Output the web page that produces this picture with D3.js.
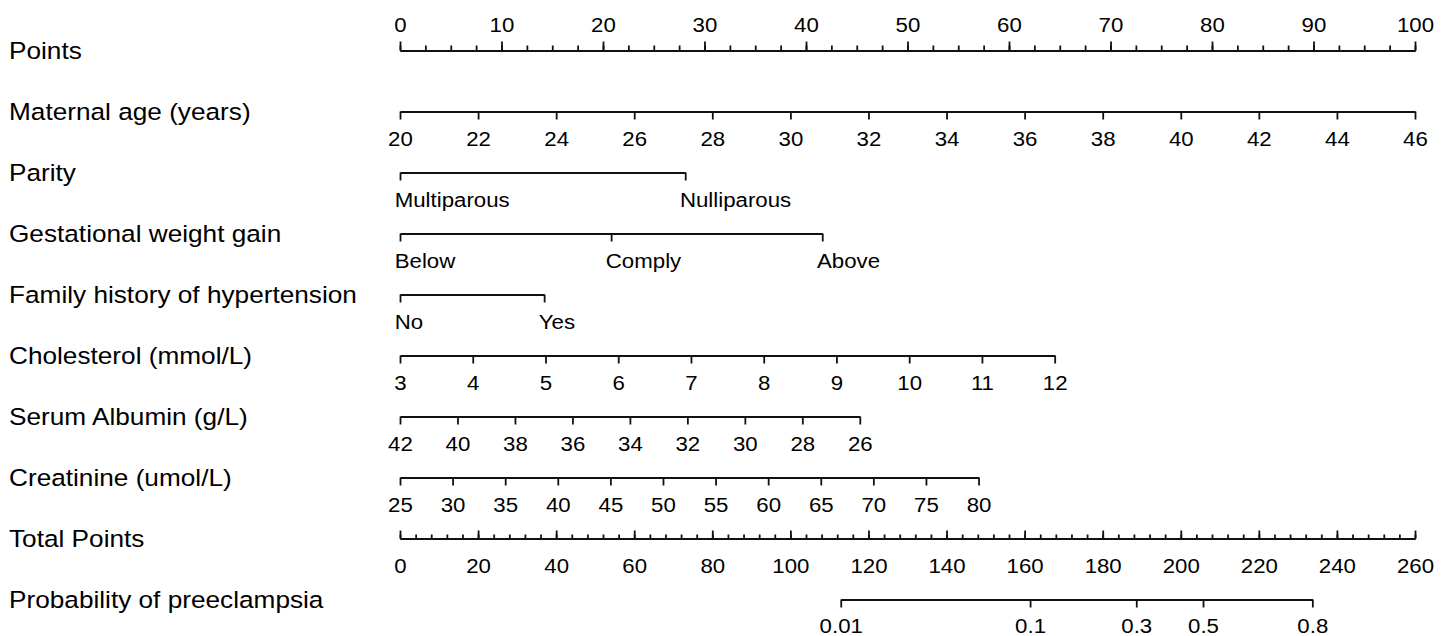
<!DOCTYPE html>
<html>
<head>
<meta charset="utf-8">
<script src="https://cdn.jsdelivr.net/npm/d3@7"></script>
<style>
  body { margin: 0; background: #fff; }
  svg { font-family: Arial, 'Liberation Sans', sans-serif; }
</style>
</head>
<body>
<div id="chart"></div>
<script>
var width = 1448
var height = 636

// rows of the nomogram, top to bottom
var rowLabels = [
  'Points',
  'Maternal age (years)',
  'Parity',
  'Gestational weight gain',
  'Family history of hypertension',
  'Cholesterol (mmol/L)',
  'Serum Albumin (g/L)',
  'Creatinine (umol/L)',
  'Total Points',
  'Probability of preeclampsia'
]

var pointsTicks = [0, 10, 20, 30, 40, 50, 60, 70, 80, 90, 100]
var pointsMinorStep = 2.5

var ageTicks = [20, 22, 24, 26, 28, 30, 32, 34, 36, 38, 40, 42, 44, 46]
var ageRange = [20, 46]
var agePoints = [0, 100]

var parityLevels = ['Multiparous', 'Nulliparous']
var parityPoints = [0, 28.1]

var gwgLevels = ['Below', 'Comply', 'Above']
var gwgPoints = [0, 20.8, 41.6]

var familyLevels = ['No', 'Yes']
var familyPoints = [0, 14.2]

var cholTicks = [3, 4, 5, 6, 7, 8, 9, 10, 11, 12]
var cholRange = [3, 12]
var cholPoints = [0, 64.5]

var albTicks = [42, 40, 38, 36, 34, 32, 30, 28, 26]
var albRange = [42, 26]
var albPoints = [0, 45.3]

var creatTicks = [25, 30, 35, 40, 45, 50, 55, 60, 65, 70, 75, 80]
var creatRange = [25, 80]
var creatPoints = [0, 57.0]

var totalTicks = [0, 20, 40, 60, 80, 100, 120, 140, 160, 180, 200, 220, 240, 260]
var totalMinorStep = 4

var probTicks = [0.01, 0.1, 0.3, 0.5, 0.8]
var probTotalPoints = [112.9, 161.4, 188.6, 205.7, 233.7]

var fsLabel = 23.5
var fsTick = 21
var ink = '#111'

var svg = d3
  .select('#chart')
  .append('svg')
  .attr('width', width)
  .attr('height', height)

svg.append('rect').attr('width', width).attr('height', height).attr('fill', '#fff')

var xPts = d3.scaleLinear().domain([0, 100]).range([400, 1415])
var xTot = d3.scaleLinear().domain([0, 260]).range([400, 1415])

var yRow = d3.scalePoint().domain(rowLabels).range([50.5, 599.5])

// row labels on the left (the source type is a little wide)
svg
  .selectAll('.row-label')
  .data(rowLabels)
  .enter()
  .append('text')
  .attr('class', 'row-label')
  .attr('transform', d => 'translate(9,' + (yRow(d) + 8.5) + ') scale(1.115,1)')
  .attr('font-size', fsLabel)
  .attr('fill', '#000')
  .text(d => d)

function styleAxis(g) {
  g.attr('font-size', fsTick).attr('font-family', null).attr('color', ink)
  g.selectAll('path, line').attr('stroke-width', 1.8)
  g.selectAll('text').attr('fill', '#000').attr('transform', 'scale(1.06,1)')
}

// Points scale on top
var pointsMinor = d3.range(0, 100 + 0.01, pointsMinorStep)
svg
  .append('g')
  .attr('transform', 'translate(0,' + yRow('Points') + ')')
  .call(d3.axisTop(xPts).tickValues(pointsMinor).tickSize(5).tickSizeOuter(0).tickFormat(''))
  .call(styleAxis)
svg
  .append('g')
  .attr('transform', 'translate(0,' + yRow('Points') + ')')
  .call(d3.axisTop(xPts).tickValues(pointsTicks).tickSize(9).tickSizeOuter(0).tickPadding(10))
  .call(styleAxis)

function numericRow(label, range, pts, ticks) {
  var s = d3.scaleLinear().domain(range).range(pts.map(xPts))
  svg
    .append('g')
    .attr('transform', 'translate(0,' + yRow(label) + ')')
    .call(d3.axisBottom(s).tickValues(ticks).tickSize(8).tickSizeOuter(0).tickPadding(12))
    .call(styleAxis)
}

function categoryRow(label, levels, pts) {
  var g = svg
    .append('g')
    .attr('transform', 'translate(0,' + yRow(label) + ')')
    .call(
      d3
        .axisBottom(xPts)
        .tickValues(pts)
        .tickSize(8)
        .tickSizeOuter(0)
        .tickPadding(12)
        .tickFormat((d, i) => levels[i])
    )
    .call(styleAxis)
  g.select('.domain').attr('d', 'M' + (xPts(0) + 0.5) + ',0.5H' + (xPts(d3.max(pts)) + 0.5))
  g.selectAll('.tick text').attr('text-anchor', 'start').attr('dx', -5.5)
}

numericRow('Maternal age (years)', ageRange, agePoints, ageTicks)
categoryRow('Parity', parityLevels, parityPoints)
categoryRow('Gestational weight gain', gwgLevels, gwgPoints)
categoryRow('Family history of hypertension', familyLevels, familyPoints)
numericRow('Cholesterol (mmol/L)', cholRange, cholPoints, cholTicks)
numericRow('Serum Albumin (g/L)', albRange, albPoints, albTicks)
numericRow('Creatinine (umol/L)', creatRange, creatPoints, creatTicks)

// Total points: ticks point up, labels below
var totalMinor = d3.range(0, 260 + 0.01, totalMinorStep)
svg
  .append('g')
  .attr('transform', 'translate(0,' + yRow('Total Points') + ')')
  .call(d3.axisBottom(xTot).tickValues(totalMinor).tickSize(-4).tickSizeOuter(0).tickFormat(''))
  .call(styleAxis)
svg
  .append('g')
  .attr('transform', 'translate(0,' + yRow('Total Points') + ')')
  .call(d3.axisBottom(xTot).tickValues(totalTicks).tickSize(-8).tickSizeOuter(0).tickPadding(20))
  .call(styleAxis)

// Probability scale, placed by total points
var pg = svg
  .append('g')
  .attr('transform', 'translate(0,' + yRow('Probability of preeclampsia') + ')')
  .call(
    d3
      .axisBottom(xTot)
      .tickValues(probTotalPoints)
      .tickSize(8)
      .tickSizeOuter(0)
      .tickPadding(10.5)
      .tickFormat((d, i) => probTicks[i])
  )
  .call(styleAxis)
pg.select('.domain').attr(
  'd',
  'M' + (xTot(d3.min(probTotalPoints)) + 0.5) + ',0.5H' + (xTot(d3.max(probTotalPoints)) + 0.5)
)
</script>
</body>
</html>
